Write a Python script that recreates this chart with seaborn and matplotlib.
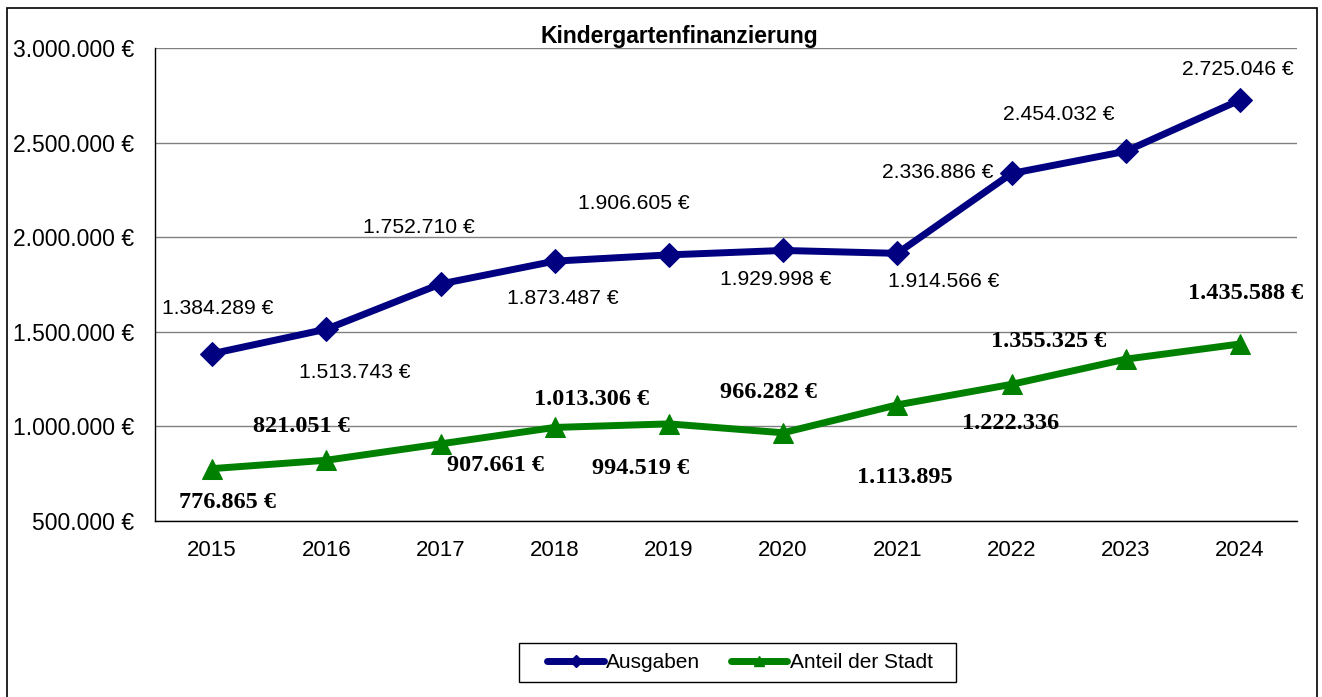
import pandas as pd
import matplotlib
matplotlib.use('Agg')
import matplotlib.pyplot as plt
import seaborn as sns
from matplotlib.lines import Line2D
from matplotlib.patches import Rectangle
from matplotlib.ticker import FuncFormatter, FixedLocator

years = ['2015', '2016', '2017', '2018', '2019', '2020', '2021', '2022', '2023', '2024']
ausgaben = [1384289, 1513743, 1752710, 1873487, 1906605, 1929998, 1914566, 2336886, 2454032, 2725046]
anteil = [776865, 821051, 907661, 994519, 1013306, 966282, 1113895, 1222336, 1355325, 1435588]

# label texts as shown in the source (some are shifted / missing the euro sign)
ausgaben_labels = ['1.384.289 €', '1.513.743 €', '1.752.710 €', '1.873.487 €', '1.906.605 €',
                   '1.929.998 €', '1.914.566 €', '2.336.886 €', '2.454.032 €', '2.725.046 €']
anteil_labels = ['776.865 €', '821.051 €', '907.661 €', '1.013.306 €', '994.519 €',
                 '966.282 €', '1.113.895', '1.222.336', '1.355.325 €', '1.435.588 €']

# pixel offsets of the labels from their points (x right, y up)
ausgaben_off = [(6, 45), (28, -43), (-22, 56), (8, -37), (-35, 51),
                (-7, -29), (46, -28), (-74, 1), (-67, 37), (-2, 31)]
anteil_off = [(15, -34), (-25, 34), (55, -22), (37, 28), (-28, -45),
              (-15, 40), (8, -73), (-1, -39), (-77, 18), (6, 50)]

df = pd.DataFrame({'Jahr': years, 'Ausgaben': ausgaben, 'Anteil der Stadt': anteil})

sns.set_style('white')
plt.rcParams['font.family'] = ['Liberation Sans', 'DejaVu Sans']
plt.rcParams['text.color'] = 'black'
plt.rcParams['xtick.color'] = 'black'
plt.rcParams['ytick.color'] = 'black'

navy = '#000080'
green = '#008000'

fig = plt.figure(figsize=(13.22, 6.97), dpi=100)
ax = fig.add_axes([155/1322, 1-521/697, (1297-155)/1322, (521-48)/697])

sns.lineplot(data=df, x='Jahr', y='Ausgaben', ax=ax, color=navy, linewidth=5,
             marker='D', markersize=12, markeredgecolor=navy, sort=False, zorder=3)
sns.lineplot(data=df, x='Jahr', y='Anteil der Stadt', ax=ax, color=green, linewidth=5,
             marker='^', markersize=15, markeredgecolor=green, sort=False, zorder=3)

for i in range(len(years)):
    ax.annotate(ausgaben_labels[i], (i, ausgaben[i]), xytext=ausgaben_off[i],
                textcoords='offset pixels', ha='center', va='center', fontsize=15.2)
    ax.annotate(anteil_labels[i], (i, anteil[i]), xytext=anteil_off[i],
                textcoords='offset pixels', ha='center', va='center', fontsize=17.5,
                fontweight='bold', family=['Liberation Serif', 'DejaVu Serif'])

ax.set_ylim(500000, 3000000)
ax.set_xlim(-0.5, len(years) - 0.5)
ax.set_yticks(range(500000, 3000001, 500000))
ax.yaxis.set_major_formatter(FuncFormatter(lambda v, p: f'{int(v):,} €'.replace(',', '.')))
ax.grid(axis='y', color='#808080', linewidth=1)
ax.set_axisbelow(True)

ax.xaxis.set_minor_locator(FixedLocator([i + 0.5 for i in range(-1, len(years))]))
ax.tick_params(axis='x', which='major', length=0, pad=14, labelsize=16)
ax.tick_params(axis='x', which='minor', length=6, width=1, color='black', direction='out')
ax.tick_params(axis='y', length=6, width=1, color='black', direction='out', labelsize=16.5, pad=9)

ax.set_xlabel('')
ax.set_ylabel('')
for s in ['top', 'right']:
    ax.spines[s].set_visible(False)
for s in ['left', 'bottom']:
    ax.spines[s].set_color('black')
    ax.spines[s].set_linewidth(1)

fig.text(679/1322, 1-36/697, 'Kindergartenfinanzierung', fontsize=16.5, fontweight='bold',
         ha='center', va='center')

handles = [Line2D([], [], color=navy, linewidth=5, marker='D', markersize=6, solid_capstyle='round'),
           Line2D([], [], color=green, linewidth=5, marker='^', markersize=7, solid_capstyle='round')]
leg = fig.legend(handles, ['Ausgaben', 'Anteil der Stadt'], loc='center',
                 bbox_to_anchor=(740/1322, 1-663/697), ncol=2, frameon=False,
                 fontsize=15, handlelength=2.7, handletextpad=0.1, columnspacing=1.5)

# legend box and outer chart frame
fig.patches.append(Rectangle((519/1322, 1-682/697), (956-519)/1322, 39/697,
                             transform=fig.transFigure, fill=False, edgecolor='black', linewidth=1))
fig.patches.append(Rectangle((7/1322, -0.01), (1317-7)/1322, 1.01 - 8/697,
                             transform=fig.transFigure, fill=False, edgecolor='black', linewidth=1.2))

fig.savefig('out.png', dpi=100)
